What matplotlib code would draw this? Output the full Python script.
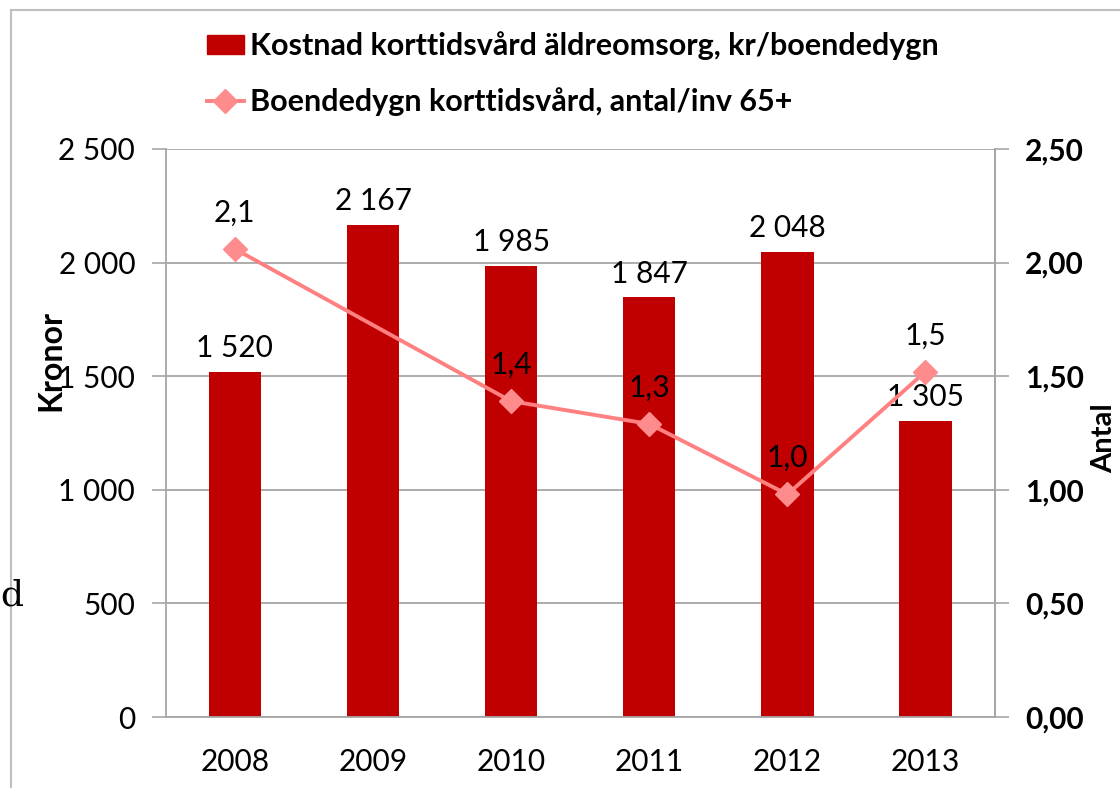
import matplotlib.pyplot as plt
import numpy as np
from matplotlib.lines import Line2D

years = ['2008', '2009', '2010', '2011', '2012', '2013']
kostnad = [1520, 2167, 1985, 1847, 2048, 1305]
# boendedygn per inv 65+ (no value for 2009)
antal = [2.06, np.nan, 1.39, 1.29, 0.98, 1.52]

bar_color = '#C00000'
line_color = '#FF8080'
grid_color = '#A6A6A6'
fs = 21.5

plt.rcParams['font.family'] = ['Lato', 'DejaVu Sans']

fig = plt.figure(figsize=(11.2, 7.88), dpi=100)
ax = fig.add_axes([0.148, 0.09, 0.740, 0.721])
ax2 = ax.twinx()

x = np.arange(len(years))
bars = ax.bar(x, kostnad, width=0.38, color=bar_color, zorder=2)
ax.set_xlim(-0.5, len(years) - 0.5)
ax.set_ylim(0, 2500)
ax.set_yticks(np.arange(0, 2501, 500))
ax.set_yticklabels([f'{v:,}'.replace(',', ' ') for v in range(0, 2501, 500)], fontsize=fs)
ax.set_xticks(x)
ax.set_xticklabels(years, fontsize=fs)
ax.tick_params(axis='x', length=0, pad=22)
ax.tick_params(axis='y', length=10, width=1.2, color=grid_color, pad=12)
ax.yaxis.grid(True, color=grid_color, lw=1.3, zorder=0)
ax.set_axisbelow(True)
ax.spines['top'].set_visible(False)
for s in ['left', 'right', 'bottom']:
    ax.spines[s].set_color(grid_color)
    ax.spines[s].set_linewidth(1.3)
ax.set_ylabel('Kronor', fontsize=23, fontweight='bold')
ax.yaxis.set_label_coords(-0.121, 0.627)

for xi, v in zip(x, kostnad):
    ax.annotate(f'{v:,}'.replace(',', ' '), (xi, v), xytext=(0, 17), textcoords='offset points',
                ha='center', va='center', fontsize=fs)

# line: connect across the missing year
mask = ~np.isnan(antal)
xa = x[mask]
ya = np.array(antal)[mask]
ax2.plot(xa, ya, color=line_color, lw=2.8, marker='D', markersize=12,
         markerfacecolor='#FF8C8C', markeredgecolor='#FF8C8C', zorder=3)
ax2.set_ylim(0, 2.5)
ax2.set_yticks(np.arange(0, 2.51, 0.5))
ax2.set_yticklabels([f'{v:.2f}'.replace('.', ',') for v in np.arange(0, 2.51, 0.5)],
                    fontsize=fs, fontweight='bold')
ax2.tick_params(axis='y', length=10, width=1.2, color=grid_color, pad=12)
for s in ['top', 'left', 'bottom']:
    ax2.spines[s].set_visible(False)
ax2.spines['right'].set_color(grid_color)
ax2.spines['right'].set_linewidth(1.3)
ax2.set_ylabel('Antal', fontsize=21, fontweight='bold')
ax2.yaxis.set_label_coords(1.116, 0.491)

for xi, v in zip(xa, ya):
    ax2.annotate(f'{v:.1f}'.replace('.', ','), (xi, v), xytext=(0, 26), textcoords='offset points',
                 ha='center', va='center', fontsize=fs)

handles = [plt.Rectangle((0, 0), 1, 1, color=bar_color),
           Line2D([], [], color=line_color, lw=2.8, marker='D', markersize=12,
                  markerfacecolor='#FF8C8C', markeredgecolor='#FF8C8C')]
labels = ['Kostnad korttidsvård äldreomsorg, kr/boendedygn',
          'Boendedygn korttidsvård, antal/inv 65+']
fig.legend(handles, labels, loc='upper left', bbox_to_anchor=(0.174, 0.976), frameon=False,
           prop={'size': 22, 'weight': 'bold'}, labelspacing=0.9, handlelength=1.2,
           handleheight=0.6, handletextpad=0.2, borderaxespad=0)

# outer frame of the chart area
fig.add_artist(Line2D([11 / 1120, 1], [1 - 10 / 788, 1 - 10 / 788], color='#BFBFBF', lw=1.5))
fig.add_artist(Line2D([11 / 1120, 11 / 1120], [0, 1 - 10 / 788], color='#BFBFBF', lw=1.5))
fig.text(0.0, 1 - 595 / 788, 'd', family='DejaVu Serif', fontsize=26, va='center', ha='left')

fig.savefig('out.png', dpi=100)
